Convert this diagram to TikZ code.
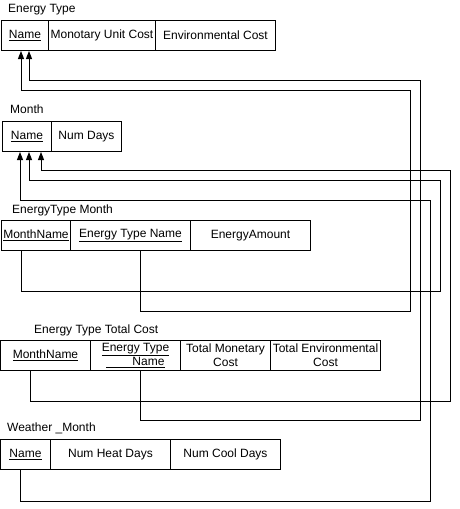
\documentclass[tikz,border=0pt]{standalone}
\usepackage{fontspec}
\setmainfont{Liberation Sans}
\usetikzlibrary{arrows.meta}

\tikzset{
  cell/.style={draw, line width=1pt, anchor=north west, minimum height=30pt, inner sep=0pt, align=center, font=\fontsize{12}{14}\selectfont},
  title/.style={anchor=west, inner sep=0pt, font=\fontsize{12}{14}\selectfont},
  fk/.style={line width=1pt, -{Triangle[width=6pt,length=8pt]}}
}

\begin{document}
\begin{tikzpicture}[x=1pt, y=-1pt]
      \useasboundingbox (0,0) rectangle (459,509);
      \node[title] (etTitle) at (8,10) {Energy Type};
      \node[cell, minimum width=47pt] (etName) at (1,20) {\underline{Name}};
      \node[cell, minimum width=107pt] (etCost) at (48,20) {Monotary Unit Cost};
      \node[cell, minimum width=120pt] (etEnv) at (155,20) {Environmental Cost};
      \node[title] (mTitle) at (10,109) {Month};
      \node[cell, minimum width=49pt] (mName) at (2,121) {\underline{Name}};
      \node[cell, minimum width=70pt] (mDays) at (51,121) {Num Days};
      \node[title] (etmTitle) at (12,210) {EnergyType Month};
      \node[cell, minimum width=69pt] (etmMonth) at (1,220) {\underline{MonthName}};
      \node[cell, minimum width=120pt] (etmType) at (70,220) {\underline{Energy Type Name}};
      \node[cell, minimum width=120pt] (etmAmount) at (190,220) {EnergyAmount};
      \node[title] (ettcTitle) at (34,330) {Energy Type Total Cost};
      \node[cell, minimum width=90pt] (ettcMonth) at (0,340) {\underline{MonthName}};
      \node[cell, minimum width=90pt] (ettcType) at (90,340) {\underline{Energy Type}\\\underline{\hspace{26pt}Name}};
      \node[cell, minimum width=90pt] (ettcMoney) at (180,340) {Total Monetary\\Cost};
      \node[cell, minimum width=110pt] (ettcEnv) at (270,340) {Total Environmental\\Cost};
      \node[title] (wmTitle) at (7,428) {Weather \_Month};
      \node[cell, minimum width=50pt] (wmName) at (0,439) {\underline{Name}};
      \node[cell, minimum width=120pt] (wmHeat) at (50,439) {Num Heat Days};
      \node[cell, minimum width=110pt] (wmCool) at (170,439) {Num Cool Days};
      \draw[fk] ([xshift=20pt]etmMonth.south west) -- ++(0,40) -| (440,180) -| ([xshift=27pt]mName.south west);
      \draw[fk] ([xshift=70pt]etmType.south west) -- ++(0,60) -| (410,90) -| ([xshift=20pt]etName.south west);
      \draw[fk] ([xshift=30pt]ettcMonth.south west) -- ++(0,30) -| (450,170) -| ([xshift=39pt]mName.south west);
      \draw[fk] ([xshift=50pt]ettcType.south west) -- ++(0,49) -| (420,80) -| ([xshift=28pt]etName.south west);
      \draw[fk] ([xshift=20pt]wmName.south west) -- ++(0,31) -| (430,200) -| ([xshift=18pt]mName.south west);
    \end{tikzpicture}
\end{document}
